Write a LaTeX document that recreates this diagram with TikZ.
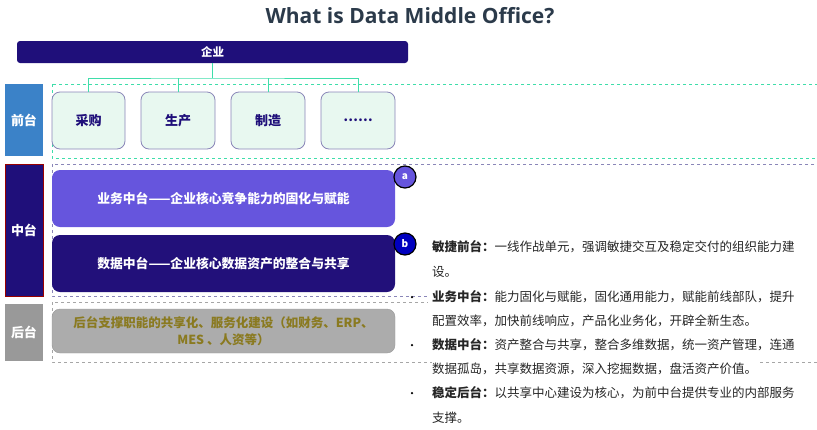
\documentclass[tikz,border=0pt]{standalone}
\usepackage{fontspec}
\setmainfont{Noto Sans CJK SC}
\newfontfamily\titlefont{Open Sans}
\usetikzlibrary{positioning}
\definecolor{navy}{HTML}{1F0F7A}
\definecolor{frontblue}{HTML}{3B82C8}
\definecolor{bizpurple}{HTML}{6655DD}
\definecolor{datanavy}{HTML}{22107A}
\definecolor{tealline}{HTML}{3FDDAA}
\definecolor{boxfill}{HTML}{E8F8F0}
\definecolor{boxedge}{HTML}{8A86B8}
\definecolor{olive}{HTML}{8A7A20}
\definecolor{titlecol}{HTML}{2B3A4A}
\tikzset{
  lbl/.style={fill=#1,text=white,font=\bfseries\fontsize{13}{15}\selectfont,inner sep=0},
  fbox/.style={draw=boxedge,fill=boxfill,rounded corners=8pt,line width=0.8pt,font=\bfseries\fontsize{13}{15}\selectfont,text=navy},
  wide/.style={rounded corners=8pt,text=white,font=\bfseries\fontsize{12.8}{15}\selectfont},
  circ/.style={circle,draw=black,line width=1.2pt,minimum size=22pt,inner sep=0,text=white,font=\bfseries\fontsize{10}{12}\selectfont},
  rtext/.style={anchor=west,font=\fontsize{12.5}{14}\selectfont,inner xsep=0,inner ysep=3pt,fill=white,text=black!85},
  dot/.style={circle,fill=black,inner sep=0,minimum size=2.5pt}
}
\begin{document}
\begin{tikzpicture}[x=1pt,y=-1pt]
\useasboundingbox (0,0) rectangle (817,429);
\node[titlecol,font=\titlefont\bfseries\fontsize{21}{24}\selectfont] (title) at (410,16) {What is Data Middle Office?};
% dashed layers
\draw[tealline,dashed,line width=0.8pt] (52,84) rectangle (817,158);
\draw[boxedge,dashed,line width=0.8pt] (52,164) rectangle (817,296);
\draw[gray!70,dashed,line width=0.8pt] (52,302) rectangle (817,362);
% enterprise bar
\node[fill=navy,rounded corners=3pt,minimum width=391pt,minimum height=22pt,inner sep=0,text=white,font=\bfseries\fontsize{11.5}{13}\selectfont] (qy) at (212.5,52) {企业};
% front boxes
\node[fbox,minimum width=73pt,minimum height=57pt] (b1) at (88.5,120.5) {采购};
\node[fbox,minimum width=74pt,minimum height=57pt] (b2) at (178,120.5) {生产};
\node[fbox,minimum width=74pt,minimum height=57pt] (b3) at (268,120.5) {制造};
\node[fbox,minimum width=74pt,minimum height=57pt] (b4) at (358,120.5) {……};
\coordinate (hub) at (212,78);
\draw[tealline,line width=1pt] (qy.south -| hub) -- (hub);
\draw[tealline,line width=1pt] (b1.north) |- (hub) -| (b4.north);
\draw[tealline,line width=1pt] (b2.north) -- (b2.north |- hub);
\draw[tealline,line width=1pt] (b3.north) -- (b3.north |- hub);
% labels
\node[lbl=frontblue,minimum width=38pt,minimum height=72pt] (qt) at (24,120) {前台};
\node[lbl=navy,draw=red!60!black,minimum width=38pt,minimum height=132pt] (zt) at (24,230) {中台};
\node[lbl=gray!80,minimum width=38pt,minimum height=57pt] (ht) at (24,332.5) {后台};
% middle boxes
\node[wide,fill=bizpurple,minimum width=343pt,minimum height=57pt] (yw) at (223.5,198.5) {业务中台——企业核心竞争能力的固化与赋能};
\node[wide,fill=datanavy,minimum width=343pt,minimum height=57pt] (sj) at (223.5,263.5) {数据中台——企业核心数据资产的整合与共享};
\node[rounded corners=8pt,fill=gray!65,draw=gray!80,minimum width=343pt,minimum height=44pt,text=olive,align=center,font=\bfseries\fontsize{12.5}{17}\selectfont] (bk) at (223.5,331) {后台支撑职能的共享化、服务化建设（如财务、ERP、\\MES 、人资等）};
\node[circ,fill=bizpurple] (ca) at (405,177) {a};
% right text
\fill[white] (428,290) rectangle (817,305);
\node[rtext] (l1) at (432,247) {\textbf{敏捷前台：}一线作战单元，强调敏捷交互及稳定交付的组织能力建};
\node[rtext] (l2) at (432,272) {设。};
\node[rtext] (l3) at (432,297) {\textbf{业务中台：}能力固化与赋能，固化通用能力，赋能前线部队，提升};
\node[rtext] (l4) at (432,321) {配置效率，加快前线响应，产品化业务化，开辟全新生态。};
\node[rtext] (l5) at (432,345) {\textbf{数据中台：}资产整合与共享，整合多维数据，统一资产管理，连通};
\node[rtext] (l6) at (432,369) {数据孤岛，共享数据资源，深入挖掘数据，盘活资产价值。};
\node[rtext] (l7) at (432,393) {\textbf{稳定后台：}以共享中心建设为核心，为前中台提供专业的内部服务};
\node[rtext] (l8) at (432,418) {支撑。};
\node[circ,fill=blue!75!black] (cb) at (405,244) {b};
\node[dot] (d1) at (412,297) {};
\node[dot] (d2) at (412,345) {};
\node[dot] (d3) at (412,393) {};
\end{tikzpicture}
\end{document}
